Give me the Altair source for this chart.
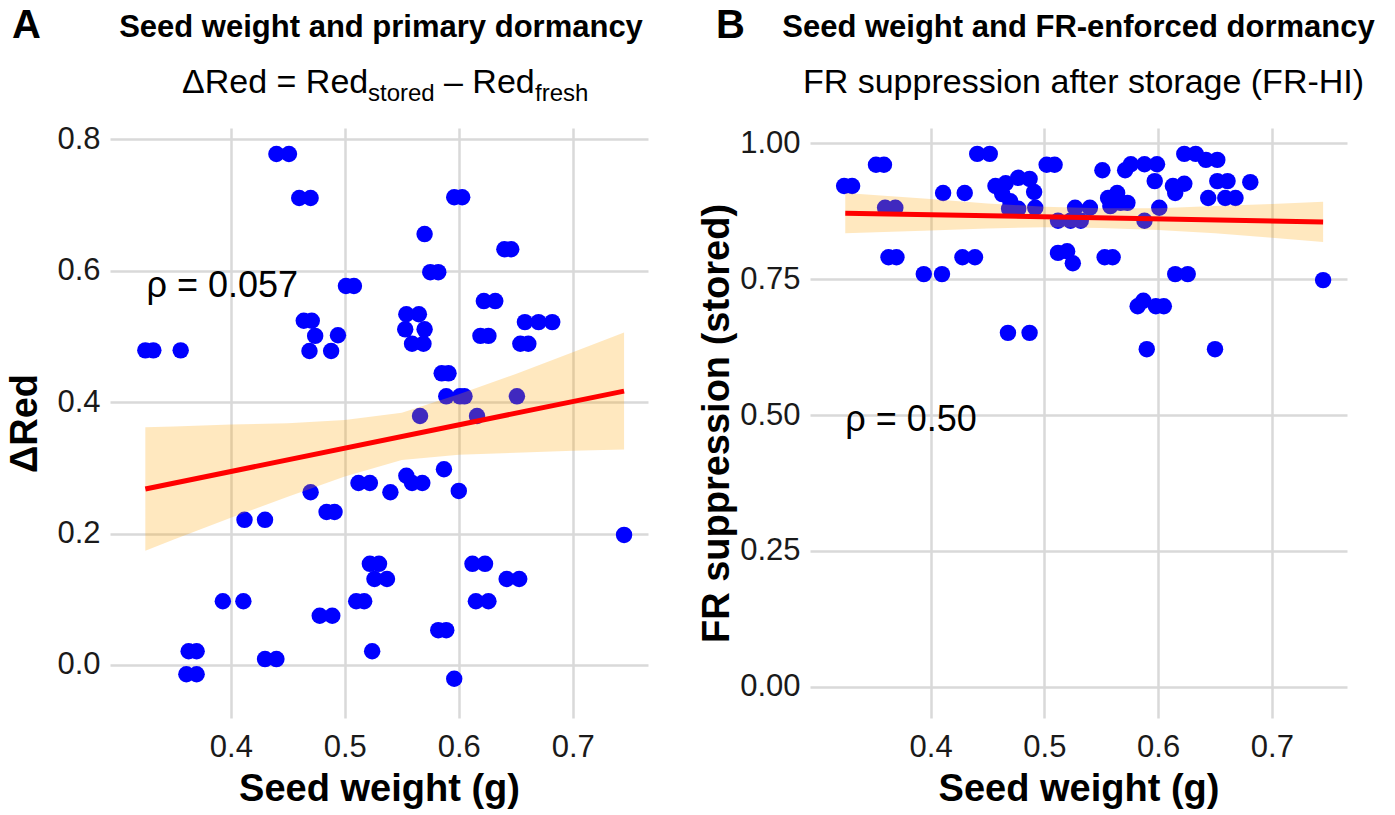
import altair as alt
import pandas as pd

FONT = "Liberation Sans"

# ---- Panel A: seed weight vs change in red-light germination (ΔRed) ----
a_weight = [0.440, 0.451, 0.460, 0.470, 0.596, 0.603, 0.570, 0.640, 0.646, 0.575,
            0.582, 0.501, 0.508, 0.622, 0.632, 0.554, 0.565, 0.464, 0.471, 0.658,
            0.670, 0.682, 0.553, 0.570, 0.474, 0.494, 0.619, 0.626, 0.559, 0.569,
            0.654, 0.661, 0.325, 0.332, 0.356, 0.469, 0.488, 0.585, 0.591, 0.589,
            0.601, 0.605, 0.651, 0.566, 0.616, 0.587, 0.554, 0.559, 0.568, 0.522,
            0.512, 0.470, 0.540, 0.600, 0.484, 0.491, 0.412, 0.430, 0.745, 0.522,
            0.530, 0.612, 0.623, 0.526, 0.537, 0.642, 0.653, 0.393, 0.411, 0.510,
            0.517, 0.615, 0.626, 0.478, 0.489, 0.582, 0.589, 0.363, 0.370, 0.524,
            0.430, 0.440, 0.361, 0.370, 0.596]
a_delta = [0.778, 0.778, 0.711, 0.711, 0.712, 0.712, 0.656, 0.633, 0.633, 0.598,
           0.598, 0.577, 0.577, 0.554, 0.554, 0.534, 0.534, 0.524, 0.524, 0.522,
           0.522, 0.522, 0.511, 0.511, 0.501, 0.502, 0.501, 0.501, 0.489, 0.489,
           0.489, 0.489, 0.479, 0.479, 0.479, 0.478, 0.478, 0.444, 0.444, 0.409,
           0.409, 0.409, 0.409, 0.379, 0.379, 0.298, 0.288, 0.277, 0.277, 0.277,
           0.277, 0.263, 0.263, 0.265, 0.233, 0.233, 0.221, 0.221, 0.198, 0.154,
           0.154, 0.154, 0.154, 0.131, 0.131, 0.131, 0.131, 0.097, 0.097, 0.097,
           0.097, 0.097, 0.097, 0.075, 0.075, 0.053, 0.053, 0.021, 0.021, 0.021,
           0.009, 0.009, -0.014, -0.014, -0.021]

# ---- Panel B: seed weight vs FR suppression after storage ----
b_weight = [0.324, 0.331, 0.352, 0.359, 0.441, 0.452, 0.502, 0.509, 0.411, 0.430,
            0.360, 0.369, 0.363, 0.370, 0.394, 0.410, 0.428, 0.439, 0.468, 0.487,
            0.457, 0.466, 0.477, 0.487, 0.463, 0.470, 0.491, 0.492, 0.469, 0.477,
            0.512, 0.523, 0.532, 0.527, 0.540, 0.512, 0.520, 0.525, 0.553, 0.560,
            0.551, 0.571, 0.576, 0.588, 0.599, 0.597, 0.623, 0.633, 0.642, 0.652,
            0.613, 0.623, 0.615, 0.652, 0.661, 0.681, 0.644, 0.659, 0.668, 0.556,
            0.564, 0.567, 0.558, 0.573, 0.601, 0.588, 0.615, 0.626, 0.745, 0.582,
            0.587, 0.598, 0.605, 0.590, 0.650]
b_supp = [0.921, 0.921, 0.960, 0.960, 0.980, 0.980, 0.960, 0.960, 0.908, 0.908,
          0.881, 0.881, 0.790, 0.790, 0.759, 0.759, 0.790, 0.790, 0.651, 0.651,
          0.921, 0.926, 0.936, 0.934, 0.906, 0.893, 0.910, 0.881, 0.879, 0.879,
          0.857, 0.857, 0.857, 0.881, 0.881, 0.798, 0.801, 0.779, 0.790, 0.790,
          0.950, 0.950, 0.961, 0.961, 0.961, 0.930, 0.980, 0.980, 0.969, 0.969,
          0.921, 0.925, 0.908, 0.930, 0.930, 0.928, 0.899, 0.899, 0.899, 0.899,
          0.908, 0.890, 0.884, 0.890, 0.881, 0.857, 0.759, 0.759, 0.748, 0.700,
          0.710, 0.700, 0.700, 0.621, 0.621]

# ---- linear fits and their confidence bands ----
fit_x = [0.325, 0.745]
fit_a = [0.268, 0.417]
fit_b = [0.871, 0.855]

band_a_x = [0.325, 0.35, 0.40, 0.45, 0.50, 0.55, 0.60, 0.65, 0.70, 0.745]
band_a_lo = [0.174, 0.191, 0.224, 0.256, 0.287, 0.312, 0.320, 0.323, 0.326, 0.328]
band_a_hi = [0.362, 0.363, 0.366, 0.368, 0.373, 0.384, 0.412, 0.443, 0.476, 0.506]

band_b_x = [0.325, 0.40, 0.45, 0.50, 0.55, 0.60, 0.65, 0.70, 0.745]
band_b_lo = [0.834, 0.839, 0.843, 0.845, 0.844, 0.840, 0.834, 0.826, 0.818]
band_b_hi = [0.908, 0.897, 0.889, 0.883, 0.880, 0.880, 0.884, 0.888, 0.892]

# ---- correlation annotations ----
rho_a = {"x": 0.326, "y": 0.577, "t": "ρ = 0.057"}
rho_b = {"x": 0.325, "y": 0.490, "t": "ρ = 0.50"}

X_DOMAIN = [0.294, 0.766]
X_TICKS = [0.4, 0.5, 0.6, 0.7]

PLOT_W_A, PLOT_W_B, PLOT_H = 538, 537, 590


def label(text, x, y, size, weight="normal", align="left"):
    return alt.Chart(alt.Data(values=[{}])).mark_text(
        text=text, font=FONT, fontSize=size, fontWeight=weight, align=align,
        baseline="alphabetic", color="black"
    ).encode(x=alt.value(x), y=alt.value(y))


def panel(wx, wy, fy, bx, blo, bhi, rho, ydomain, yticks, yfmt, ytitle, ytitle_pad, width):
    xs = alt.Scale(domain=X_DOMAIN, nice=False, zero=False)
    ys = alt.Scale(domain=ydomain, nice=False, zero=False)
    xa = alt.Axis(values=X_TICKS, format=".1f", title="Seed weight (g)")
    ya = alt.Axis(values=yticks, format=yfmt, title=ytitle, titlePadding=ytitle_pad)

    pts = pd.DataFrame({"x": wx, "y": wy})
    fit = pd.DataFrame({"x": fit_x, "y": fy})
    band = pd.DataFrame({"x": bx, "lo": blo, "hi": bhi})

    points = alt.Chart(pts).mark_circle(size=270, color="#0000FF", opacity=1).encode(
        x=alt.X("x:Q", scale=xs, axis=xa), y=alt.Y("y:Q", scale=ys, axis=ya))
    ribbon = alt.Chart(band).mark_area(color="orange", opacity=0.25).encode(
        x=alt.X("x:Q", scale=xs, axis=xa), y=alt.Y("lo:Q", scale=ys, axis=ya), y2="hi:Q")
    line = alt.Chart(fit).mark_line(color="red", strokeWidth=5).encode(
        x=alt.X("x:Q", scale=xs, axis=xa), y=alt.Y("y:Q", scale=ys, axis=ya))
    rtext = alt.Chart(alt.Data(values=[rho])).mark_text(
        align="left", baseline="middle", font=FONT, fontSize=36, color="black"
    ).encode(x=alt.X("x:Q", scale=xs, axis=xa), y=alt.Y("y:Q", scale=ys, axis=ya), text="t:N")
    return [points, ribbon, line, rtext]


layers_a = panel(a_weight, a_delta, fit_a, band_a_x, band_a_lo, band_a_hi, rho_a,
                 [-0.0807, 0.8175], [0.0, 0.2, 0.4, 0.6, 0.8], ".1f", "ΔRed", 12, PLOT_W_A)
layers_a += [
    label("A", -98, -90, 40, "bold"),
    label("Seed weight and primary dormancy", PLOT_W_A / 2 + 2, -91, 31, "bold", "center"),
    label("ΔRed = Red", 72, -35, 34),
    label("stored", 258, -27, 24),
    label("– Red", 334, -35, 34),
    label("fresh", 425, -27, 24),
]
chart_a = alt.layer(*layers_a).properties(width=PLOT_W_A, height=PLOT_H)

layers_b = panel(b_weight, b_supp, fit_b, band_b_x, band_b_lo, band_b_hi, rho_b,
                 [-0.057, 1.0276], [0.0, 0.25, 0.5, 0.75, 1.0], ".2f",
                 "FR suppression (stored)", 3, PLOT_W_B)
layers_b += [
    label("B", -94, -90, 40, "bold"),
    label("Seed weight and FR-enforced dormancy", PLOT_W_B / 2, -91, 31, "bold", "center"),
    label("FR suppression after storage (FR-HI)", PLOT_W_B / 2 + 5, -35, 34, "normal", "center"),
]
chart_b = alt.layer(*layers_b).properties(width=PLOT_W_B, height=PLOT_H)

chart = alt.hconcat(chart_a, chart_b, spacing=50).configure(
    padding={"left": 6, "top": 6, "right": 5, "bottom": 5}
).configure_view(stroke=None).configure_axis(
    labelFont=FONT, labelFontSize=31, labelColor="#1a1a1a",
    titleFont=FONT, titleFontSize=38, titleFontWeight="bold", titleColor="black",
    grid=True, gridColor="#D9D9D9", gridWidth=2.5, domain=False, ticks=False,
).configure_axisX(labelPadding=14, titlePadding=8).configure_axisY(labelPadding=10)

chart.save("out.html", embed_options={"renderer": "svg", "actions": False})
